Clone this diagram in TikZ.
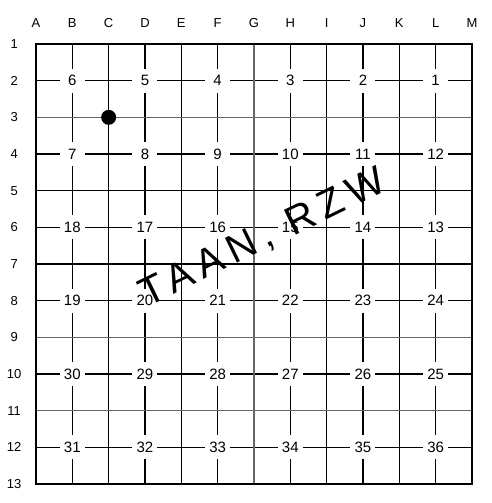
\documentclass[tikz,border=0pt]{standalone}
\usepackage{fontspec}
\setmainfont{Liberation Sans}
\usepackage{tikz}

\begin{document}
\begin{tikzpicture}[
        x=36.33pt, y=-36.67pt,
        % --- line styles ---
        mainline/.style={line width=1.5pt},
        faintline/.style={line width=1.2pt, black!60},
        tickline/.style={line width=1.5pt},
        % --- node styles ---
        cell/.style={
            fill=white, inner sep=0pt,
            minimum width=25pt, minimum height=24pt,
            font=\fontsize{15}{15}\selectfont
        },
        axis/.style={font=\fontsize{13}{13}\selectfont},
        stone/.style={circle, fill=black, minimum size=15pt, inner sep=0pt},
        scrawl/.style={
            font=\fontsize{40}{40}\selectfont\addfontfeature{LetterSpace=18},
            rotate=26, inner sep=0pt
        }
    ]

    % ============================================================
    %  Grid: columns A..M at x = 0..12, rows 1..13 at y = 1..13.
    %  Heavy lines on A,C,E,G,I,K,M and rows 1,3,...,13;
    %  short ticks on the others, broken by the numbered cells.
    % ============================================================
    \useasboundingbox (-0.991,-0.2) rectangle (12.551,13.517);

    % --- axis labels ---
    \foreach \c [count=\i from 0] in {A,B,C,D,E,F,G,H,I,J,K,L,M}
        \node[axis] (col\c) at (\i,0.42) {\c};
    \foreach \r in {1,...,13}
        \node[axis] (row\r) at (-0.6,\r) {\r};

    % --- tick lines (B,D,...,L and rows 2,4,...,12) ---
    \foreach \i in {1,3,...,11}
        \draw[tickline] (\i,1) -- (\i,13);
    \foreach \j in {2,4,...,12}
        \draw[tickline] (0,\j) -- (12,\j);

    % --- main lines ---
    \foreach \i in {2,4,8,10}
        \draw[mainline] (\i,1) -- (\i,13);
    \draw[faintline] (6,1) -- (6,13);
    \foreach \j in {5,7}
        \draw[mainline] (0,\j) -- (12,\j);
    \foreach \j in {3,9,11}
        \draw[faintline] (0,\j) -- (12,\j);
    \draw[mainline] (0,1) rectangle (12,13);

    % --- numbered cells ---
    \foreach \n/\i/\j in {
            6/1/2, 5/3/2, 4/5/2, 3/7/2, 2/9/2, 1/11/2,
            7/1/4, 8/3/4, 9/5/4, 10/7/4, 11/9/4, 12/11/4,
            18/1/6, 17/3/6, 16/5/6, 15/7/6, 14/9/6, 13/11/6,
            19/1/8, 20/3/8, 21/5/8, 22/7/8, 23/9/8, 24/11/8,
            30/1/10, 29/3/10, 28/5/10, 27/7/10, 26/9/10, 25/11/10,
            31/1/12, 32/3/12, 33/5/12, 34/7/12, 35/9/12, 36/11/12}
        \node[cell] (n\n) at (\i,\j) {\n};

    % --- stone on C3 ---
    \node[stone] (stoneC3) at (2,3) {};

    % --- handwritten note ---
    \node[scrawl] (note) at (6.25,6.3) {TAAN, RZW};

\end{tikzpicture}
\end{document}
